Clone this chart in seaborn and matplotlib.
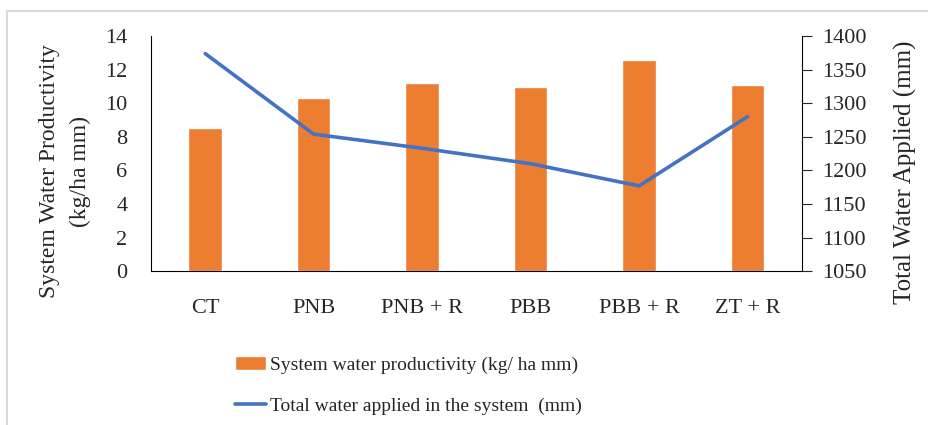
import numpy as np
import pandas as pd
import matplotlib.pyplot as plt
import seaborn as sns
from matplotlib.patches import Rectangle

# values
treatments = ["CT", "PNB", "PNB + R", "PBB", "PBB + R", "ZT + R"]
water_productivity = [8.5, 10.3, 11.2, 10.95, 12.55, 11.1]   # kg/ha mm
water_applied = [1374, 1254, 1233, 1210, 1177, 1280]          # mm

sns.set_style("white")
plt.rcParams['font.family'] = ['Liberation Serif', 'DejaVu Serif']

df = pd.DataFrame({"treatment": treatments,
                   "swp": water_productivity,
                   "twa": water_applied})

fig = plt.figure(figsize=(9.29, 4.25), dpi=100)
ax = fig.add_axes([0.1625, 0.362, 0.7005, 0.553])

sns.barplot(data=df, x="treatment", y="swp", color="#ED7D31", saturation=1,
            width=0.31, ax=ax, label="System water productivity (kg/ ha mm)")
ax.set_ylim(0, 14)
ax.set_yticks(range(0, 15, 2))
ax.set_xlim(-0.5, 5.5)
if ax.get_legend() is not None:
    ax.get_legend().remove()

ax2 = ax.twinx()
sns.lineplot(data=df, x="treatment", y="twa", sort=False, color="#4472C4",
             linewidth=2.6, ax=ax2, label="Total water applied in the system  (mm)")
ax2.set_ylim(1050, 1400)
ax2.set_yticks(range(1050, 1401, 50))
ax2.get_legend().remove()

ax.spines["top"].set_visible(False)
ax.spines["right"].set_visible(False)
ax2.spines["left"].set_visible(False)
ax2.spines["top"].set_visible(False)
ax2.spines["bottom"].set_visible(False)
ax.spines["left"].set_color("black")
ax.spines["bottom"].set_color("black")
ax2.spines["right"].set_color("black")

ax.tick_params(axis="y", labelsize=16, length=0, pad=17)
ax.tick_params(axis="x", labelsize=16, length=0, pad=20)
ax2.tick_params(axis="y", labelsize=16, length=7, direction="out", pad=8)

ax.set_xlabel("")
ax.set_ylabel("System Water Productivity\n(kg/ha mm)", fontsize=17, linespacing=1.6)
ax.yaxis.set_label_coords(-0.092, 0.425)
ax2.set_ylabel("Total Water Applied (mm)", fontsize=18)
ax2.yaxis.set_label_coords(1.142, 0.42)

h1, l1 = ax.get_legend_handles_labels()
h2, l2 = ax2.get_legend_handles_labels()
fig.legend(h1 + h2, l1 + l2, loc="upper left", bbox_to_anchor=(0.245, 0.18),
           frameon=False, fontsize=14, handlelength=1.6, handletextpad=0.2,
           labelspacing=1.2, borderaxespad=0)

# light frame around the chart area
fig.patches.append(Rectangle((0.008, -0.1), 1.1, 1.074, transform=fig.transFigure,
                             fill=False, edgecolor="#D9D9D9", linewidth=1.5))

fig.savefig("out.png", dpi=100)
